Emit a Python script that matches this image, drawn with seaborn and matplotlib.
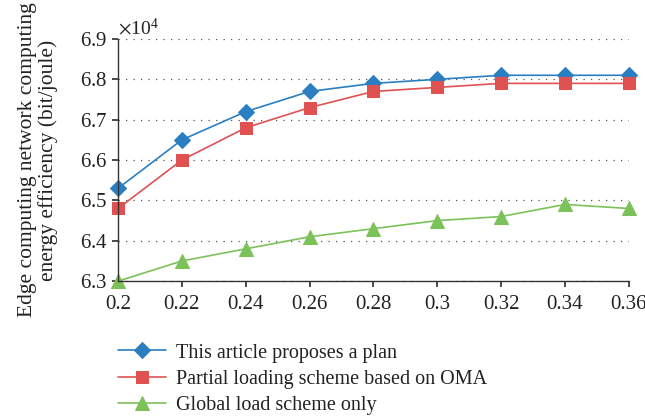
import numpy as np
import pandas as pd
import seaborn as sns
import matplotlib.pyplot as plt
from matplotlib.ticker import ScalarFormatter, FormatStrFormatter

ratio = [0.2, 0.22, 0.24, 0.26, 0.28, 0.3, 0.32, 0.34, 0.36]
proposed = [65300, 66500, 67200, 67700, 67900, 68000, 68100, 68100, 68100]
partial_oma = [64800, 66000, 66800, 67300, 67700, 67800, 67900, 67900, 67900]
global_only = [63000, 63500, 63800, 64100, 64300, 64500, 64600, 64900, 64800]

labels = ['This article proposes a plan',
          'Partial loading scheme based on OMA',
          'Global load scheme only']
colors = ['#2b7fc1', '#e05252', '#7cc15a']
markers = ['D', 's', '^']
sizes = [8, 8.5, 9.5]

sns.set_theme(style='white')
plt.rcParams['font.family'] = ['Liberation Serif', 'DejaVu Serif']
plt.rcParams['mathtext.fontset'] = 'stix'

fig = plt.figure(figsize=(6.45, 4.19), dpi=100)
ax = fig.add_axes([0.183, 0.329, 0.792, 0.578])

for vals, lab, c, m, ms in zip([proposed, partial_oma, global_only], labels, colors, markers, sizes):
    df = pd.DataFrame({'x': ratio, 'y': vals})
    sns.lineplot(data=df, x='x', y='y', ax=ax, color=c, marker=m, markersize=ms,
                 markeredgecolor=c, linewidth=1.2, label=lab, clip_on=False)

ax.set_xlim(0.2, 0.36)
ax.set_ylim(63000, 69000)
ax.set_xticks(ratio)
ax.xaxis.set_major_formatter(FormatStrFormatter('%g'))
ax.set_yticks(np.arange(63000, 69001, 1000))
fmt = ScalarFormatter(useMathText=True)
fmt.set_powerlimits((4, 4))
ax.yaxis.set_major_formatter(fmt)
ax.yaxis.get_offset_text().set_fontsize(14)
ax.yaxis.get_offset_text().set_color('#222222')

ax.grid(axis='y', linestyle=(0, (1, 5)), color='#555555', linewidth=0.9)
ax.grid(axis='x', visible=False)
for s in ['top', 'right']:
    ax.spines[s].set_visible(False)
for s in ['left', 'bottom']:
    ax.spines[s].set_color('#333333')
    ax.spines[s].set_linewidth(1.0)
ax.tick_params(axis='both', which='major', labelsize=15, direction='out', length=4,
               color='#333333', bottom=True, left=True, labelcolor='#222222')
ax.tick_params(axis='x', pad=6)

ax.set_xlabel('')
ax.set_ylabel('Edge computing network computing\nenergy efficiency (bit/joule)', fontsize=15.5,
              color='#222222', labelpad=16, linespacing=1.05)

handles, labs = ax.get_legend_handles_labels()
ax.get_legend().remove()
fig.legend(handles, labs, loc='upper left', bbox_to_anchor=(0.176, 0.19), frameon=False,
           fontsize=14.5, handlelength=2.4, labelspacing=0.35, handletextpad=0.5,
           labelcolor='#222222', borderaxespad=0, borderpad=0.2)

fig.savefig('out.png', dpi=100)
